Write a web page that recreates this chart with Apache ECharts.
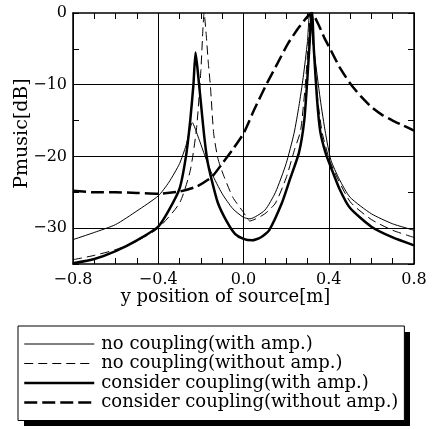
<!DOCTYPE html>
<html>
<head>
<meta charset="utf-8">
<title>Pmusic</title>
<script src="https://cdn.jsdelivr.net/npm/echarts@6/dist/echarts.min.js"></script>
<style>
  html, body { margin: 0; padding: 0; background: #fff; }
  #chart { width: 434px; height: 429px; }
</style>
</head>
<body>
<div id="chart"></div>
<script>
// series names (legend)
var names = ['no coupling(with amp.)', 'no coupling(without amp.)',
             'consider coupling(with amp.)', 'consider coupling(without amp.)'];

// no coupling (with amp.) - thin solid
var x1 = [-0.8,-0.7,-0.6,-0.5,-0.4,-0.35,-0.3,-0.27,-0.24,-0.21,-0.18,-0.15,-0.1,-0.05,0,0.03,0.1,0.15,0.2,0.237,0.26,0.28,0.3,0.31,0.33,0.36,0.385,0.41,0.45,0.5,0.6,0.7,0.8];
var y1 = [-31.6,-30.6,-29.5,-27.6,-25.5,-23.6,-21,-18.5,-15.3,-17.5,-20,-22.3,-25.2,-27.3,-28.5,-28.7,-27.5,-25,-21,-16.8,-13,-9,-4,0,-5,-12,-16.8,-20.5,-23.2,-25.7,-28,-29.4,-30.3];

// no coupling (without amp.) - thin dashed
var x2 = [-0.8,-0.7,-0.6,-0.5,-0.4,-0.3,-0.25,-0.22,-0.2,-0.19,-0.185,-0.175,-0.165,-0.155,-0.14,-0.12,-0.094,-0.05,0,0.03,0.1,0.15,0.2,0.24,0.268,0.29,0.305,0.315,0.33,0.35,0.37,0.41,0.5,0.6,0.7,0.8];
var y2 = [-34.4,-33.8,-33,-31.8,-30,-26.5,-22,-16,-8,-2,0,-3,-7,-10.3,-16.8,-20.3,-22.6,-25.7,-27.8,-29,-28,-26.5,-23,-19,-16.4,-10,-4,0,-6,-12.5,-16.8,-21,-26.3,-28.8,-30.3,-31.3];

// consider coupling (with amp.) - thick solid
var x3 = [-0.8,-0.7,-0.6,-0.5,-0.4,-0.35,-0.3,-0.27,-0.25,-0.235,-0.225,-0.215,-0.2,-0.185,-0.17,-0.15,-0.12,-0.08,-0.04,0,0.04,0.08,0.12,0.18,0.22,0.26,0.285,0.3,0.315,0.322,0.33,0.345,0.36,0.385,0.41,0.45,0.5,0.6,0.7,0.8];
var y3 = [-34.9,-34.3,-33.2,-31.7,-29.8,-27.5,-24.5,-20,-15,-10,-5.5,-8,-12.5,-17,-20.5,-23.2,-26.5,-29,-30.8,-31.5,-31.7,-31.3,-30.3,-26.5,-23,-19.5,-15,-9,-2,0,-5,-12,-16.5,-19.5,-21.5,-24.5,-27.2,-29.8,-31.3,-32.4];

// consider coupling (without amp.) - thick dashed
var x4 = [-0.8,-0.7,-0.6,-0.5,-0.4,-0.3,-0.22,-0.15,-0.1,-0.05,0,0.05,0.11,0.16,0.21,0.26,0.3,0.32,0.35,0.38,0.41,0.45,0.5,0.55,0.6,0.65,0.7,0.75,0.8];
var y4 = [-24.8,-25,-25,-25.1,-25.2,-24.9,-24.2,-22.9,-21,-19,-16.8,-13.5,-9.8,-7,-4.2,-2,-0.5,0,-1.5,-3.5,-5.2,-7.5,-9.8,-11.6,-13.1,-14.2,-15,-15.7,-16.4];

// horizontal grid lines
var yGrid = [-10, -20, -30];

function pairs(xs, ys) {
  return xs.map(function (x, i) { return [x, ys[i]]; });
}
function minus(s) { return String(s).replace('-', '\u2212'); }

var font = 'DejaVu Serif';
var styles = [
  { width: 1, type: 'solid' },
  { width: 1, type: [9, 5] },
  { width: 2.5, type: 'solid' },
  { width: 2.5, type: [13, 5] }
];
var datas = [pairs(x1, y1), pairs(x2, y2), pairs(x3, y3), pairs(x4, y4)];

var series = names.map(function (n, i) {
  var s = {
    name: n,
    type: 'line',
    data: datas[i],
    showSymbol: false,
    symbol: 'none',
    smooth: 0.2,
    clip: true,
    lineStyle: { color: '#000', width: styles[i].width, type: styles[i].type },
    itemStyle: { color: '#000' }
  };
  if (i === 0) {
    s.markLine = {
      silent: true,
      symbol: 'none',
      label: { show: false },
      lineStyle: { color: '#000', width: 1, type: 'solid' },
      data: yGrid.map(function (v) { return { yAxis: v }; })
    };
  }
  return s;
});

var tickCommon = { inside: true, length: 6, lineStyle: { color: '#000', width: 1 } };
var lineCommon = { show: true, onZero: false, lineStyle: { color: '#000', width: 1.5 } };

var chart = echarts.init(document.getElementById('chart'), null, { renderer: 'canvas' });
chart.setOption({
  animation: false,
  backgroundColor: '#fff',
  grid: { left: 73, right: 20, top: 13, bottom: 165 },
  // drop shadow behind the legend box
  graphic: [{
    type: 'rect', z: 0, silent: true,
    shape: { x: 24, y: 332, width: 386, height: 94 },
    style: { fill: '#000' }
  }],
  xAxis: [{
    type: 'value', min: -0.8, max: 0.8, interval: 0.4,
    axisLine: lineCommon,
    axisTick: tickCommon,
    minorTick: { show: true, splitNumber: 4, length: 6, lineStyle: { color: '#000', width: 1 } },
    splitLine: { show: true, lineStyle: { color: '#000', width: 1 } },
    axisLabel: {
      color: '#000', fontFamily: font, fontSize: 16, margin: 8,
      formatter: function (v) { return minus(v.toFixed(1)); }
    },
    name: 'y position of source[m]',
    nameLocation: 'middle', nameGap: 24, nameMoveOverlap: false,
    nameTextStyle: { color: '#000', fontFamily: font, fontSize: 18, verticalAlign: 'top', padding: [0, 36, 0, 0] }
  }, {
    type: 'value', position: 'top', min: -0.8, max: 0.8, interval: 0.4,
    axisLine: lineCommon,
    axisTick: tickCommon,
    minorTick: { show: true, splitNumber: 4, length: 6, lineStyle: { color: '#000', width: 1 } },
    splitLine: { show: false },
    axisLabel: { show: false }
  }],
  yAxis: [{
    type: 'value', min: -35, max: 0, interval: 5,
    axisLine: lineCommon,
    axisTick: tickCommon,
    splitLine: { show: false },
    axisLabel: {
      color: '#000', fontFamily: font, fontSize: 16, margin: 6,
      formatter: function (v) { return Math.round(v) % 10 === 0 ? minus(Math.round(v)) : ''; }
    },
    name: 'Pmusic[dB]',
    nameLocation: 'middle', nameGap: 41, nameRotate: 90, nameMoveOverlap: false,
    nameTextStyle: { color: '#000', fontFamily: font, fontSize: 19, padding: [0, 0, 0, 10] }
  }, {
    type: 'value', position: 'right', min: -35, max: 0, interval: 5,
    axisLine: lineCommon,
    axisTick: tickCommon,
    splitLine: { show: false },
    axisLabel: { show: false }
  }],
  legend: {
    data: names,
    orient: 'vertical',
    left: 18, top: 326,
    padding: [9, 6, 9, 5],
    itemWidth: 70, itemHeight: 14, itemGap: 1.5,
    backgroundColor: '#fff',
    borderColor: '#000', borderWidth: 1,
    selectedMode: false,
    itemStyle: { color: 'rgba(0,0,0,0)', borderWidth: 0, opacity: 0 },
    lineStyle: { width: 'inherit' },
    textStyle: { color: '#000', fontFamily: font, fontSize: 18, lineHeight: 18, padding: [0, 0, 0, 2] }
  },
  series: series
});
</script>
</body>
</html>
